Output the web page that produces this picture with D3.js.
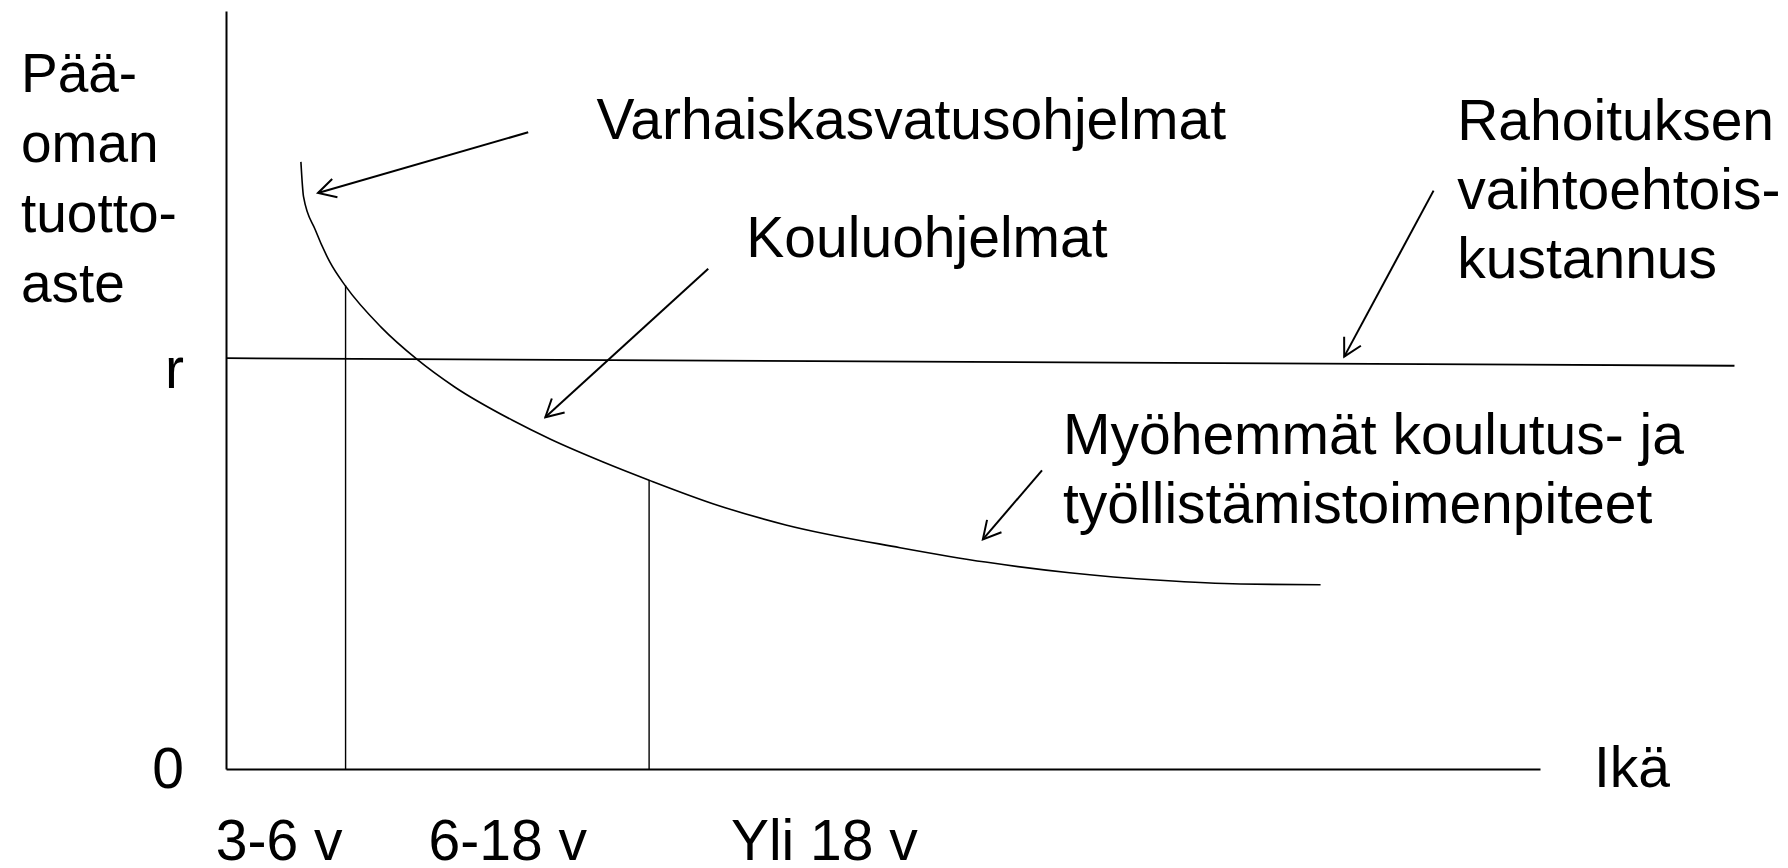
<!DOCTYPE html>
<html lang="fi">
<head>
<meta charset="utf-8">
<script src="https://cdn.jsdelivr.net/npm/d3@7"></script>
<style>
  body { margin: 0; background: #fff; }
  svg { display: block; font-family: "Liberation Sans", Arial, sans-serif; }
</style>
</head>
<body>
<div id="chart"></div>
<script>
// tuottoastekäyrä iän mukaan (Heckman-tyyppinen kuva)

const width = 1788;
const height = 868;

// käyrän pisteet (ikä / tuottoaste, mielivaltaiset yksiköt 0–100)
const curveAge = [5.7, 5.9, 6.8, 7.9, 9.1, 11.8, 14.5, 17.4, 21.8, 24.7, 28.7, 32.2, 37.4, 42.6, 51.3, 57.8, 64.2, 71.1, 77.2, 83.3];
const curveReturn = [80.1, 75.5, 71.1, 66.9, 63.7, 58.3, 54.1, 50.4, 46.0, 43.5, 40.5, 38.1, 34.8, 32.2, 29.2, 27.3, 25.9, 24.9, 24.4, 24.3];

// rahoituksen vaihtoehtoiskustannus r (hieman kalteva viiva)
const rLineAge = [0, 114.8];
const rLineValue = [54.2, 53.2];

// ikärajat (pystyviivat)
const boundaryAge = [9.1, 32.2];
const boundaryTop = [63.8, 38.1];

// akselien merkinnät
const ageTickPos = [4.0, 21.4, 45.5];
const ageTickLabels = ["3-6 v", "6-18 v", "Yli 18 v"];
const yTickVals = [0, 54.2];
const yTickLabels = ["0", "r"];
const yTitle = ["Pää-", "oman", "tuotto-", "aste"];

// selitteet ja nuolet
const noteLines = [
  ["Varhaiskasvatusohjelmat"],
  ["Kouluohjelmat"],
  ["Rahoituksen", "vaihtoehtois-", "kustannus"],
  ["Myöhemmät koulutus- ja", "työllistämistoimenpiteet"]
];
const noteX = [28.2, 39.6, 93.7, 63.7];
const noteY = [83.1, 67.5, 83.0, 41.6];
const arrowFrom = [[23.0, 84.0], [36.7, 66.0], [91.9, 76.3], [62.1, 39.4]];
const arrowTo = [[7.0, 76.0], [24.3, 46.4], [85.1, 54.4], [57.6, 30.3]];

const fontSize = 57;

const svg = d3.select("#chart")
  .append("svg")
  .attr("width", width)
  .attr("height", height);

svg.append("rect").attr("width", width).attr("height", height).attr("fill", "#fff");

const x = d3.scaleLinear().domain([0, 100]).range([226, 1540]);
const y = d3.scaleLinear().domain([0, 100]).range([769, 11]);

// nuolenkärki
svg.append("defs")
  .append("marker")
  .attr("id", "arrow")
  .attr("viewBox", "-20 -12 22 24")
  .attr("refX", 0)
  .attr("refY", 0)
  .attr("markerWidth", 22)
  .attr("markerHeight", 24)
  .attr("markerUnits", "userSpaceOnUse")
  .attr("orient", "auto")
  .append("path")
  .attr("d", "M-17.5,-9.5L0,0L-17.5,9.5")
  .attr("fill", "none")
  .attr("stroke", "#000")
  .attr("stroke-width", 2);

// x-akseli
const xAxis = svg.append("g")
  .attr("transform", `translate(0,${y(0)})`)
  .call(d3.axisBottom(x)
    .tickValues(ageTickPos)
    .tickFormat((d, i) => ageTickLabels[i])
    .tickSize(0)
    .tickPadding(51));
xAxis.attr("font-size", fontSize).attr("font-family", null);
xAxis.select(".domain").attr("stroke", "#000").attr("stroke-width", 2);
xAxis.selectAll("text").attr("fill", "#000");

// y-akseli
const yAxis = svg.append("g")
  .attr("transform", `translate(${x(0)},0)`)
  .call(d3.axisLeft(y)
    .tickValues(yTickVals)
    .tickFormat((d, i) => yTickLabels[i])
    .tickSize(0)
    .tickPadding(42));
yAxis.attr("font-size", fontSize).attr("font-family", null);
yAxis.select(".domain").attr("stroke", "#000").attr("stroke-width", 2);
yAxis.selectAll("text")
  .attr("fill", "#000")
  .attr("dy", (d, i) => (i === 1 ? "0.52em" : "0.32em"));

// akselien otsikot
svg.append("text")
  .attr("x", x(100) + 54)
  .attr("y", y(0))
  .attr("dy", "0.32em")
  .attr("font-size", fontSize)
  .text("Ikä");

svg.append("text")
  .attr("font-size", 55)
  .selectAll("tspan")
  .data(yTitle)
  .join("tspan")
  .attr("x", 21)
  .attr("y", (d, i) => 92 + i * 70)
  .text(d => d);

// r-viiva
svg.append("line")
  .attr("x1", x(rLineAge[0]))
  .attr("y1", y(rLineValue[0]))
  .attr("x2", x(rLineAge[1]))
  .attr("y2", y(rLineValue[1]))
  .attr("stroke", "#000")
  .attr("stroke-width", 1.8);

// pystyviivat
svg.append("g")
  .selectAll("line")
  .data(boundaryAge)
  .join("line")
  .attr("x1", d => x(d))
  .attr("x2", d => x(d))
  .attr("y1", y(0))
  .attr("y2", (d, i) => y(boundaryTop[i]))
  .attr("stroke", "#000")
  .attr("stroke-width", 1.4);

// tuottoastekäyrä
const curvePts = curveAge.map((a, i) => [a, curveReturn[i]]);
svg.append("path")
  .datum(curvePts)
  .attr("d", d3.line()
    .x(d => x(d[0]))
    .y(d => y(d[1]))
    .curve(d3.curveMonotoneX))
  .attr("fill", "none")
  .attr("stroke", "#000")
  .attr("stroke-width", 1.6);

// nuolet
svg.append("g")
  .selectAll("line")
  .data(arrowFrom)
  .join("line")
  .attr("x1", d => x(d[0]))
  .attr("y1", d => y(d[1]))
  .attr("x2", (d, i) => x(arrowTo[i][0]))
  .attr("y2", (d, i) => y(arrowTo[i][1]))
  .attr("stroke", "#000")
  .attr("stroke-width", 2)
  .attr("marker-end", "url(#arrow)");

// selitetekstit
const notes = svg.append("g").attr("font-size", fontSize);
noteLines.forEach((lines, i) => {
  notes.append("text")
    .selectAll("tspan")
    .data(lines)
    .join("tspan")
    .attr("x", x(noteX[i]))
    .attr("y", (d, j) => y(noteY[i]) + j * 69)
    .text(d => d);
});
</script>
</body>
</html>
